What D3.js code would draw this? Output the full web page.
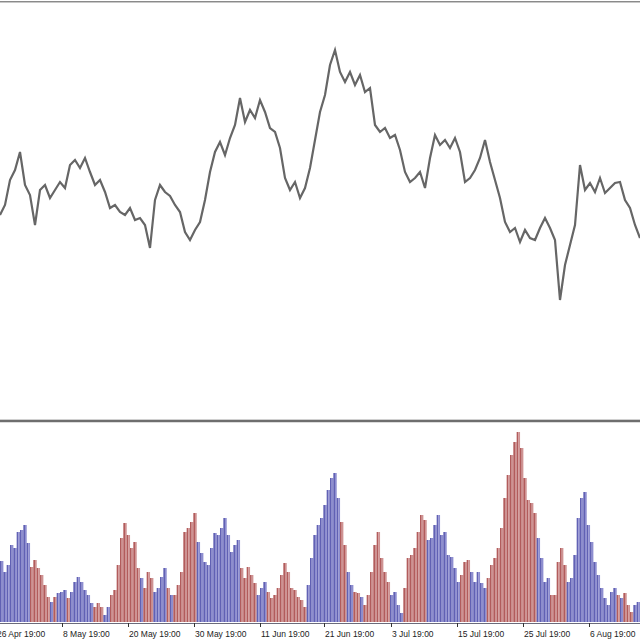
<!DOCTYPE html>
<html>
<head>
<meta charset="utf-8">
<script src="https://cdn.jsdelivr.net/npm/d3@7"></script>
<style>
  body { margin: 0; background: #fff; }
  svg { display: block; }
</style>
</head>
<body>
<div class="chart"></div>
<script>
// price path, one reading every 5px of chart width
var price = [205, 215, 240, 250, 268, 235, 225, 195, 230, 235, 222, 230, 238, 232, 255, 260, 252, 262, 248, 235,
  240, 228, 212, 215, 208, 205, 212, 200, 202, 195, 172, 220, 235, 228, 224, 215, 208, 188, 180, 190,
  198, 220, 248, 268, 278, 265, 282, 295, 322, 298, 310, 302, 320, 308, 292, 288, 272, 242, 230, 238,
  222, 232, 252, 280, 308, 325, 355, 370, 348, 338, 348, 335, 345, 328, 332, 295, 288, 292, 282, 285,
  270, 248, 238, 242, 248, 232, 262, 285, 275, 280, 272, 282, 268, 238, 242, 250, 262, 280, 258, 240,
  222, 198, 188, 192, 178, 190, 182, 180, 192, 202, 192, 180, 120, 155, 175, 195, 255, 230, 237, 228,
  242, 227, 232, 237, 238, 220, 212, 195, 182];

// histogram
var histo = [61, 50, 57, 77, 74, 90, 92, 97, 79, 55, 62, 54, 47, 37, 25, 20, 25, 29, 30, 32, 24, 30, 40, 45,
  40, 32, 27, 19, 15, 19, 15, 7, 15, 27, 32, 57, 84, 99, 87, 74, 80, 54, 44, 34, 50, 44, 30, 34,
  45, 54, 34, 27, 27, 37, 50, 90, 94, 100, 109, 80, 69, 60, 57, 74, 89, 87, 94, 104, 87, 70, 77, 82,
  54, 44, 55, 47, 39, 27, 34, 40, 30, 24, 27, 34, 47, 59, 50, 34, 32, 25, 22, 15, 37, 64, 87, 97,
  104, 117, 132, 144, 149, 124, 100, 77, 50, 37, 30, 29, 25, 17, 27, 50, 77, 90, 64, 50, 40, 27, 30, 17,
  9, 34, 64, 67, 74, 90, 107, 102, 82, 84, 97, 107, 87, 90, 67, 65, 54, 40, 47, 60, 62, 50, 40, 50,
  39, 34, 44, 57, 64, 74, 94, 124, 147, 167, 180, 190, 174, 144, 122, 119, 109, 84, 64, 40, 44, 27, 27, 60,
  74, 57, 40, 44, 67, 104, 124, 130, 97, 80, 60, 47, 34, 24, 17, 30, 34, 27, 24, 29, 17, 10, 17, 20];

// b = blue bar, r = red bar
var side = ("bbbbbbbbbrrrrrrbrbbbrbbbbbbbrrrbbrrrrrrrrrbrrrbb" +
  "bbrbrrrrrrrbbbbbbbbbbbbbrrrrrbbbrrrrrrrrrrrrbbbb" +
  "bbbbbbrrbbrrbrrrrrrrrbbbbrrrrrrrbbbbbbbbbbrrrbbb" +
  "bbrrrrrrrrrrrrrrrbbbbrrrrrbbbbbbbbbbbbbbbrbrrrbb").split("");

var tickLabels = ["26 Apr 19:00", "8 May 19:00", "20 May 19:00", "30 May 19:00", "11 Jun 19:00",
  "21 Jun 19:00", "3 Jul 19:00", "15 Jul 19:00", "25 Jul 19:00", "6 Aug 19:00"];
var tickPos = [-1.35, 18.51, 38.4, 58.2, 77.85, 97.29, 117.21, 137.01, 156.81, 176.79];

var width = 640, height = 640;

var svg = d3.select(".chart").append("svg")
  .attr("width", width)
  .attr("height", height);

var xp = d3.scaleLinear().domain([0, price.length - 1]).range([0, width]);
var yp = d3.scaleLinear().domain([0, 418]).range([420, 2]);

var xh = d3.scaleLinear().domain([0, histo.length]).range([0, width]);
var yh = d3.scaleLinear().domain([0, 200]).range([622, 422]);

// frame lines
svg.append("line").attr("x1", 0).attr("x2", width).attr("y1", 1.5).attr("y2", 1.5).attr("stroke", "#8a8a8a");
svg.append("line").attr("x1", 0).attr("x2", width).attr("y1", 2.5).attr("y2", 2.5).attr("stroke", "#c8c8c8");
svg.append("line").attr("x1", 0).attr("x2", width).attr("y1", 419.5).attr("y2", 419.5).attr("stroke", "#d0d0d0");
svg.append("rect").attr("x", 0).attr("y", 420).attr("width", width).attr("height", 2).attr("fill", "#6e6e6e");
svg.append("line").attr("x1", 0).attr("x2", width).attr("y1", 422.5).attr("y2", 422.5).attr("stroke", "#dcdcdc");

// price
var line = d3.line()
  .x(function(d, i) { return xp(i); })
  .y(function(d) { return yp(d); })
  .curve(d3.curveLinear);

svg.append("path")
  .datum(price)
  .attr("fill", "none")
  .attr("stroke", "#666")
  .attr("stroke-width", 2.2)
  .attr("stroke-linejoin", "miter")
  .attr("d", line);

// histogram bars, each drawn as a dark and a light half to get the striped look
var colors = {
  b: ["#6161b4", "#8e8ed0"],
  r: ["#b25c5c", "#cf9393"]
};
var bw = xh(1) - xh(0);

var bars = svg.append("g")
  .selectAll("g")
  .data(histo)
  .enter().append("g")
  .attr("transform", function(d, i) { return "translate(" + xh(i) + ",0)"; });

bars.append("rect")
  .attr("x", 0)
  .attr("width", bw / 2 + 0.05)
  .attr("y", function(d) { return yh(d); })
  .attr("height", function(d) { return yh(0) - yh(d); })
  .attr("fill", function(d, i) { return colors[side[i]][0]; });

bars.append("rect")
  .attr("x", bw / 2)
  .attr("width", bw / 2 + 0.05)
  .attr("y", function(d) { return yh(d); })
  .attr("height", function(d) { return yh(0) - yh(d); })
  .attr("fill", function(d, i) { return colors[side[i]][1]; });

// time axis
var axis = svg.append("g").attr("class", "x axis");
axis.append("line").attr("x1", 0).attr("x2", width).attr("y1", 623.5).attr("y2", 623.5).attr("stroke", "#6a6a7a");

var ticks = axis.selectAll(".tick")
  .data(tickPos)
  .enter().append("g")
  .attr("class", "tick")
  .attr("transform", function(d) { return "translate(" + Math.round(xh(d)) + ",0)"; });

ticks.append("line")
  .attr("x1", 0.5).attr("x2", 0.5)
  .attr("y1", 623).attr("y2", 627)
  .attr("stroke", "#333");

ticks.append("text")
  .attr("x", 1)
  .attr("y", 637)
  .attr("font-family", "Liberation Sans, Arial, sans-serif")
  .attr("font-size", "8.5px")
  .attr("fill", "#222")
  .text(function(d, i) { return tickLabels[i]; });
</script>
</body>
</html>
